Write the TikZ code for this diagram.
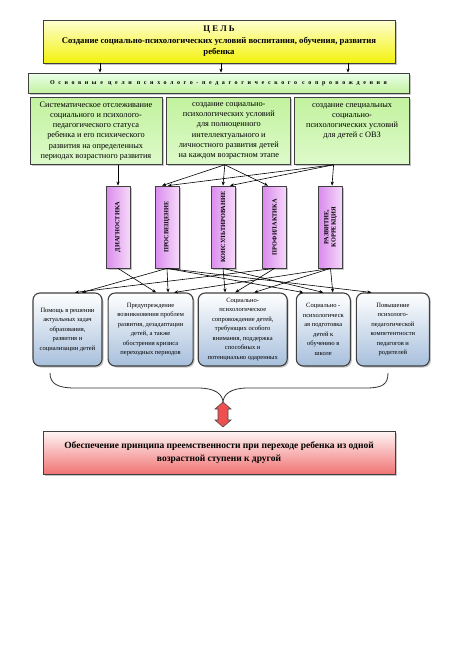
\documentclass[tikz,border=0pt]{standalone}
\usepackage{fontspec}
\setmainfont{Liberation Serif}
\newfontfamily\spacedfont[LetterSpace=60]{Liberation Serif}
\usetikzlibrary{positioning,shadows,arrows.meta}
\definecolor{yelltop}{HTML}{FFFFD2}
\definecolor{yellbot}{HTML}{F2F20C}
\definecolor{greentop}{HTML}{C2F29E}
\definecolor{greenbot}{HTML}{DDFACA}
\definecolor{violl}{HTML}{D98BEC}
\definecolor{violr}{HTML}{F6DAFA}
\definecolor{bluebot}{HTML}{A7BFDC}
\definecolor{redbot}{HTML}{F07474}
\definecolor{arrowred}{HTML}{EE4F4F}

\begin{document}
\begin{tikzpicture}[x=1pt, y=1pt,
  >={Stealth[length=4pt,width=3.2pt]},
  arr/.style={->, line width=0.6pt},
  base/.style={draw=black!75, line width=0.8pt, inner sep=1pt, align=center,
    drop shadow={shadow xshift=1.5pt, shadow yshift=-1.5pt, fill=black!45}},
  goalbox/.style={base, top color=yelltop, bottom color=yellbot,
    font=\fontsize{8.7}{11.5}\selectfont\bfseries},
  barbox/.style={base, top color=green!8, bottom color=greentop,
    font=\fontsize{6}{7}\selectfont\spacedfont\bfseries},
  aimbox/.style={base, top color=greentop, bottom color=greenbot,
    minimum height=67, anchor=north, font=\fontsize{8.3}{10.2}\selectfont},
  func/.style={base, left color=violl, right color=violr, minimum width=24,
    minimum height=82, inner sep=0pt, font=\fontsize{6.3}{7.3}\selectfont\bfseries},
  task/.style={base, rounded corners=7pt, line width=1.1pt, top color=white,
    bottom color=bluebot, minimum height=73, inner sep=0pt,
    font=\fontsize{6.5}{9.5}\selectfont},
  resultbox/.style={base, top color=red!4, bottom color=redbot,
    font=\fontsize{9.5}{13}\selectfont\bfseries}
]
\useasboundingbox (0,0) rectangle (474,-670);

% goal and common aims
\node[goalbox, minimum width=352, minimum height=43] (goal) at (219,-41.5)
  {Ц Е Л Ь\\ Создание социально-психологических условий воспитания, обучения, развития\\ ребенка};
\node[barbox, minimum width=381, minimum height=20] (bar) at (218.5,-83)
  {Основные цели психолого-педагогического сопровождения};

\node[aimbox, minimum width=132] (aim1) at (96,-97)
  {Систематическое отслеживание\\ социального и психолого-\\ педагогического статуса\\ ребенка и его психического\\ развития на определенных\\ периодах возрастного развития};
\node[aimbox, minimum width=124, right=4pt of aim1] (aim2)
  {создание социально-\\ психологических условий\\ для полноценного\\ интеллектуального и\\ личностного развития детей\\ на каждом возрастном этапе};
\node[aimbox, minimum width=115, right=3pt of aim2] (aim3)
  {создание специальных\\ социально-\\ психологических условий\\ для детей с ОВЗ\\ ~\\ ~};

% directions of work
\node[func] (diag) at (118,-227) {\rotatebox{90}{ДИАГНОСТИКА}};
\node[func] (prosv) at (167,-227) {\rotatebox{90}{ПРОСВЕЩЕНИЕ}};
\node[func] (kons) at (223,-227) {\rotatebox{90}{КОНСУЛЬТИРОВАНИЕ}};
\node[func] (prof) at (274.5,-227) {\rotatebox{90}{ПРОФИЛАКТИКА}};
\node[func] (razv) at (330.5,-227)
  {\rotatebox{90}{\begin{tabular}{@{}c@{}}РАЗВИТИЕ,\\ КОРРЕКЦИЯ\end{tabular}}};

% tasks
\node[task, minimum width=69] (task1) at (67.5,-329.5)
  {Помощь в решении\\ актуальных задач\\ образования,\\ развития и\\ социализации детей};
\node[task, minimum width=85, right=5pt of task1] (task2)
  {Предупреждение\\ возникновения проблем\\ развития, дезадаптации\\ детей, а также\\ обострения кризиса\\ переходных периодов};
\node[task, minimum width=89, right=4pt of task2] (task3)
  {Социально-\\ психологическое\\ сопровождение детей,\\ требующих особого\\ внимания, поддержка\\ способных и\\ потенциально одаренных};
\node[task, minimum width=54, right=8pt of task3] (task4)
  {Социально -\\ психологическ\\ ая подготовка\\ детей к\\ обучению в\\ школе};
\node[task, minimum width=73, right=5pt of task4] (task5)
  {Повышение\\ психолого-\\ педагогической\\ компетентности\\ педагогов и\\ родителей};

% result
\node[resultbox, minimum width=352, minimum height=43] (result) at (219,-452.5)
  {Обеспечение принципа преемственности при переходе ребенка из одной\\ возрастной ступени к другой};

% goal -> bar
\draw[arr] ([xshift=-119pt]goal.south) -- ([xshift=-118.5pt]bar.north);
\draw[arr] ([xshift=2pt]goal.south) -- ([xshift=2.5pt]bar.north);
\draw[arr] ([xshift=129pt]goal.south) -- ([xshift=129.5pt]bar.north);

% aims -> directions
\draw[arr] (aim1.south -| diag.north) -- (diag.north);
\draw[arr] ([xshift=-4pt]aim2.south) -- ([xshift=-5pt]prosv.north);
\draw[arr] ([xshift=-4pt]aim2.south) -- (kons.north);
\draw[arr] ([xshift=-4pt]aim2.south) -- ([xshift=-6.5pt]prof.north);
\draw[arr] ([xshift=-18.5pt]aim3.south) -- ([xshift=1pt]prosv.north);
\draw[arr] ([xshift=-18.5pt]aim3.south) -- ([xshift=7pt]kons.north);
\draw[arr] ([xshift=-18.5pt]aim3.south) -- ([xshift=1.5pt]razv.north);

% directions -> tasks
\draw[arr] (diag.south) -- ([xshift=5.5pt]task2.north);
\draw[arr] (prosv.south) -- ([xshift=14.5pt]task1.north);
\draw[arr] (prosv.south) -- ([xshift=17.5pt]task2.north);
\draw[arr] (prosv.south) -- ([xshift=-20pt]task4.north);
\draw[arr] (prosv.south) -- ([xshift=-21.5pt]task5.north);
\draw[arr] (kons.south) -- ([xshift=-17.5pt]task3.north);
\draw[arr] (kons.south) -- (task4.north);
\draw[arr] (prof.south) -- ([xshift=7.5pt]task1.north);
\draw[arr] (prof.south) -- ([xshift=-7.5pt]task3.north);
\draw[arr] (razv.south) -- ([xshift=23.5pt]task2.north);
\draw[arr] (razv.south) -- ([xshift=11.5pt]task3.north);
\draw[arr] (razv.south) -- ([xshift=9.5pt]task4.north);

% brace under the tasks
\draw[line width=0.8pt, black!80] (50,-373) .. controls (50,-384) and (58,-388) .. (75,-388)
  -- (198,-388) .. controls (215,-388) and (223,-394) .. (223,-403)
  .. controls (223,-394) and (231,-388) .. (248,-388)
  -- (366,-388) .. controls (383,-388) and (388,-384) .. (388,-373);

% double arrow to the result
\draw[line width=0.6pt, draw=black!70, fill=arrowred]
  (223,-402) -- (231,-409) -- (228,-409) -- (228,-420) -- (231,-420)
  -- (223,-427) -- (215,-420) -- (218,-420) -- (218,-409) -- (215,-409) -- cycle;
\end{tikzpicture}
\end{document}
